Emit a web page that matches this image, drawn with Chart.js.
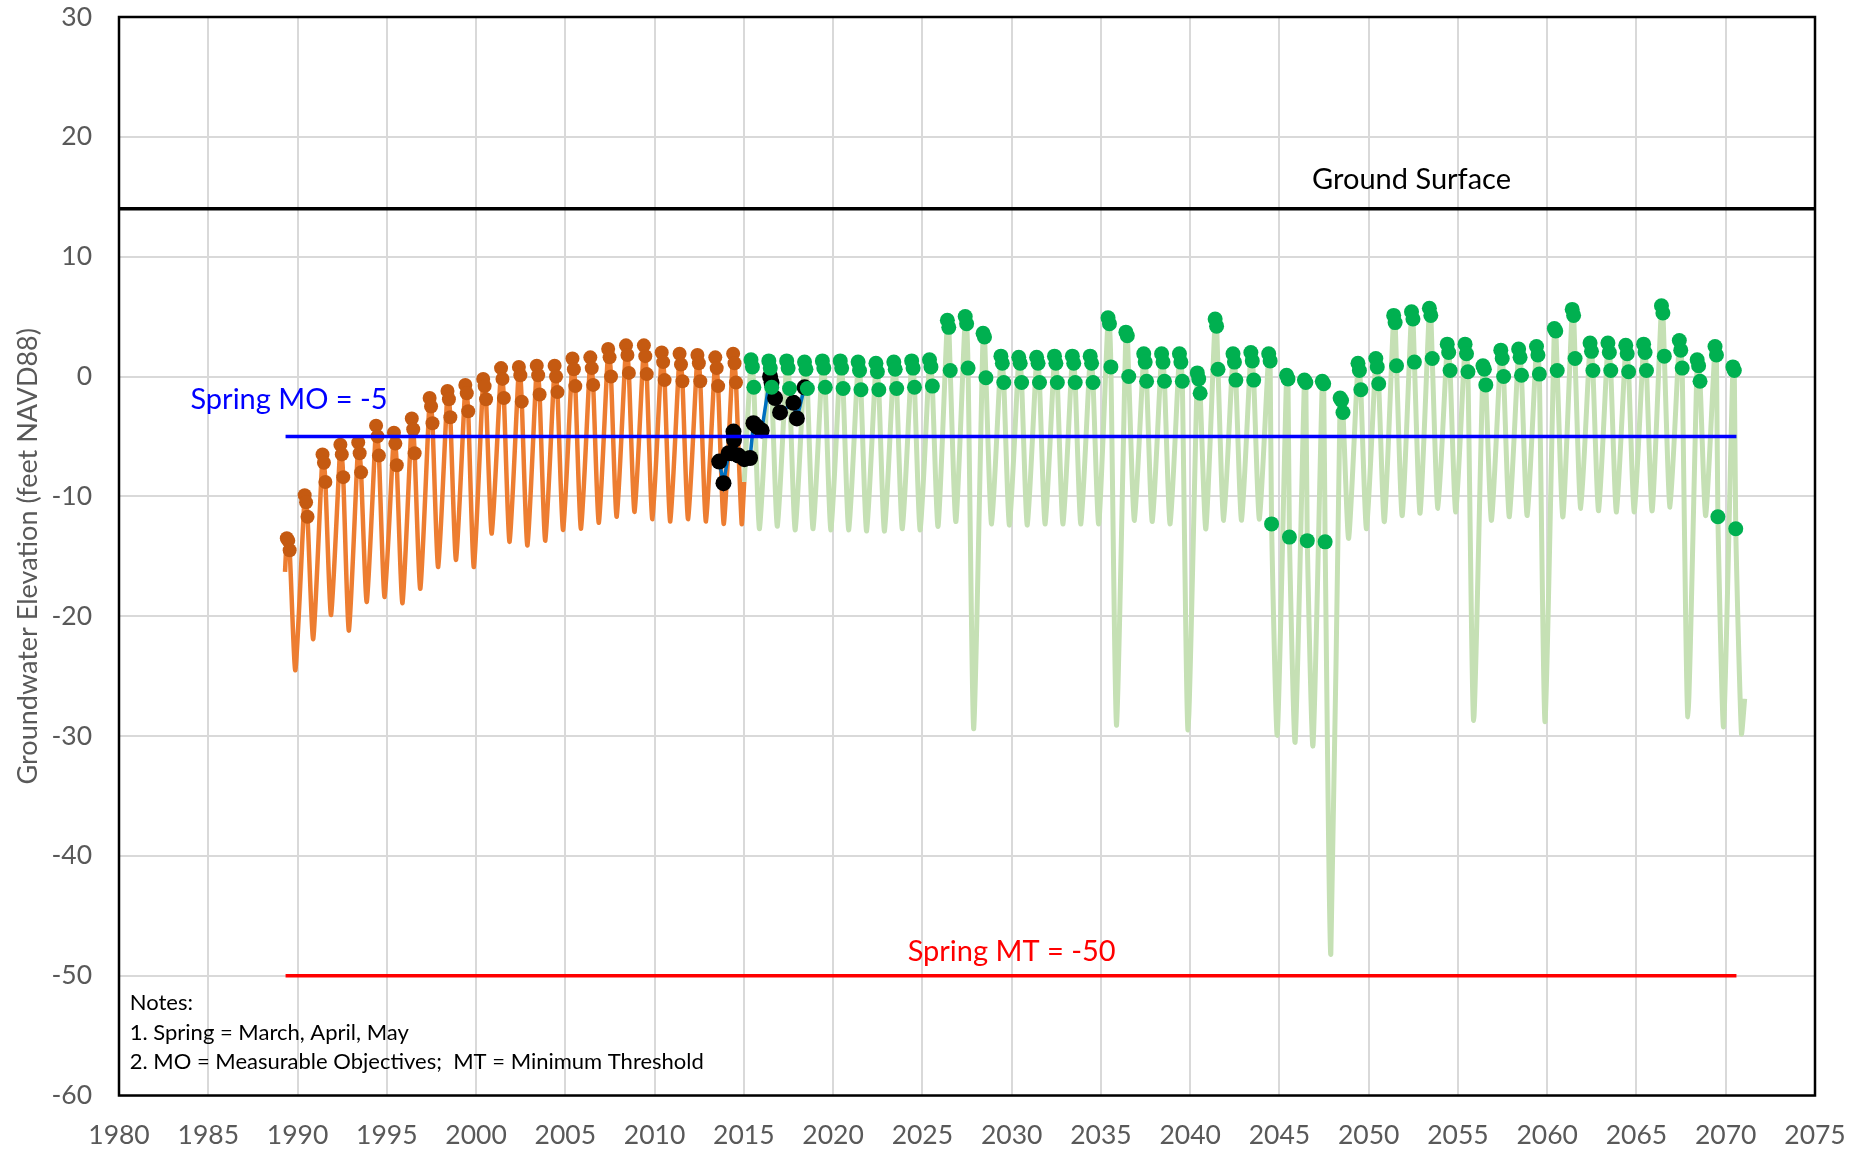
<!DOCTYPE html>
<html>
<head>
<meta charset="utf-8">
<title>Groundwater Elevation</title>
<script src="https://cdn.jsdelivr.net/npm/chart.js@4.4.1/dist/chart.umd.min.js"></script>
<style>
  html, body { margin: 0; padding: 0; background: #fff; }
  #wrap { width: 1865px; height: 1151px; }
</style>
</head>
<body>
<div id="wrap"><canvas id="chart" width="1865" height="1151"></canvas></div>
<script>
// simulated historical levels (feet NAVD88), one entry per year
const histYears = [1989, 1990, 1991, 1992, 1993, 1994, 1995, 1996, 1997, 1998, 1999, 2000, 2001,
                   2002, 2003, 2004, 2005, 2006, 2007, 2008, 2009, 2010, 2011, 2012, 2013, 2014];
const histMar = [-13.5, -9.9, -6.5, -5.7, -5.5, -4.1, -4.7, -3.5, -1.8, -1.2, -0.7, -0.2, 0.7,
                 0.8, 0.9, 0.9, 1.5, 1.6, 2.3, 2.6, 2.6, 2.0, 1.9, 1.8, 1.6, 1.9];
const histApr = [-13.7, -10.5, -7.2, -6.5, -6.4, -5.0, -5.6, -4.4, -2.5, -1.9, -1.4, -0.8, -0.2,
                 0.1, 0.1, 0.0, 0.6, 0.7, 1.6, 1.8, 1.7, 1.2, 1.0, 1.1, 0.7, 1.1];
const histMay = [-14.5, -11.7, -8.8, -8.4, -8.0, -6.6, -7.4, -6.4, -3.9, -3.4, -2.9, -1.9, -1.8,
                 -2.1, -1.5, -1.3, -0.8, -0.7, 0.0, 0.3, 0.2, -0.3, -0.4, -0.4, -0.8, -0.5];
const histLow = [-24.5, -21.9, -19.9, -21.2, -18.8, -18.4, -18.9, -17.7, -15.9, -15.3, -15.9, -13.1, -13.8,
                 -14.1, -13.7, -12.8, -12.7, -12.2, -11.7, -11.3, -11.9, -12.1, -11.9, -12.1, -12.3, -12.3];
const histStart = [1989.30, -16.3];
const histEnd = [2015.02, -8.8];

// projected levels, one entry per year
const futYears = [2015, 2016, 2017, 2018, 2019, 2020, 2021, 2022, 2023, 2024, 2025, 2026, 2027, 2028,
                  2029, 2030, 2031, 2032, 2033, 2034, 2035, 2036, 2037, 2038, 2039, 2040, 2041, 2042,
                  2043, 2044, 2045, 2046, 2047, 2048, 2049, 2050, 2051, 2052, 2053, 2054, 2055, 2056,
                  2057, 2058, 2059, 2060, 2061, 2062, 2063, 2064, 2065, 2066, 2067, 2068, 2069, 2070];
const futMar = [1.4, 1.3, 1.3, 1.2, 1.3, 1.3, 1.2, 1.1, 1.2, 1.3, 1.4, 4.7, 5.0, 3.6,
                1.7, 1.6, 1.6, 1.7, 1.7, 1.7, 4.9, 3.7, 1.9, 1.9, 1.9, 0.3, 4.8, 1.9,
                2.0, 1.9, 0.1, -0.3, -0.4, -1.8, 1.1, 1.5, 5.1, 5.4, 5.7, 2.7, 2.7, 0.9,
                2.2, 2.3, 2.5, 4.0, 5.6, 2.8, 2.8, 2.6, 2.7, 5.9, 3.0, 1.4, 2.5, 0.8];
const futApr = [0.8, 0.7, 0.7, 0.6, 0.7, 0.7, 0.5, 0.4, 0.6, 0.7, 0.8, 4.1, 4.4, 3.3,
                1.1, 1.1, 1.1, 1.1, 1.1, 1.1, 4.4, 3.4, 1.2, 1.2, 1.2, -0.2, 4.2, 1.2,
                1.3, 1.3, -0.2, -0.5, -0.6, -2.0, 0.5, 0.8, 4.5, 4.8, 5.1, 2.0, 1.9, 0.6,
                1.5, 1.6, 1.8, 3.8, 5.1, 2.1, 2.0, 1.9, 2.0, 5.3, 2.2, 0.9, 1.8, 0.5];
const futMay = [-0.9, -0.9, -1.0, -1.0, -0.9, -1.0, -1.1, -1.1, -1.0, -0.9, -0.8, 0.5, 0.7, -0.1,
                -0.5, -0.5, -0.5, -0.5, -0.5, -0.5, 0.8, 0.0, -0.4, -0.4, -0.4, -1.4, 0.6, -0.3,
                -0.3, -12.3, -13.4, -13.7, -13.8, -3.0, -1.1, -0.6, 0.9, 1.2, 1.5, 0.5, 0.4, -0.7,
                0.0, 0.1, 0.2, 0.5, 1.5, 0.5, 0.5, 0.4, 0.5, 1.7, 0.7, -0.4, -11.7, -12.7];
const futLow = [-12.7, -12.5, -12.8, -12.7, -12.8, -12.8, -12.9, -12.9, -12.7, -12.8, -12.5, -12.1, -29.4, -12.3,
                -12.4, -12.4, -12.3, -12.3, -12.3, -12.3, -29.1, -12.0, -12.1, -12.3, -29.5, -12.7, -12.0, -12.0,
                -11.9, -29.9, -30.5, -30.8, -48.2, -13.5, -12.7, -12.1, -11.6, -11.4, -11.0, -11.3, -28.7, -12.0,
                -11.7, -11.6, -28.8, -11.7, -11.0, -11.2, -11.3, -11.3, -11.2, -10.9, -28.4, -11.6, -29.2, -29.8];
const futStart = [2015.02, -8.8];
const futEnd = [2071.06, -26.9];

// observed levels
const obsDates = [2013.62, 2013.86, 2014.15, 2014.32, 2014.42, 2014.45, 2014.70, 2015.03, 2015.35,
                  2015.54, 2015.75, 2016.00, 2016.47, 2016.55, 2016.75, 2017.03, 2017.78, 2017.97, 2018.40];
const obsLevels = [-7.1, -8.9, -6.4, -6.4, -4.6, -5.3, -6.6, -6.9, -6.8,
                   -3.9, -4.2, -4.5, 0.0, -0.5, -1.8, -3.0, -2.2, -3.5, -0.9];

// date position of each month within a year on this axis
const monthPos = { mar: 0.40, apr: 0.48, may: 0.56, low: 0.88 };

// thresholds
const moLevel = -5;
const mtLevel = -50;
const groundLevel = 14;
const thresholdSpan = [1989.33, 2070.6];
const groundSpan = [1980, 2075];

const xTicks = [1980, 2075, 5];
const yTicks = [-60, 30, 10];

function seasonalLine(years, mar, apr, may, low, first, last) {
  const pts = [{ x: first[0], y: first[1] }];
  years.forEach((yr, i) => {
    pts.push({ x: yr + monthPos.mar, y: mar[i] });
    pts.push({ x: yr + monthPos.apr, y: apr[i] });
    pts.push({ x: yr + monthPos.may, y: may[i] });
    pts.push({ x: yr + monthPos.low, y: low[i] });
  });
  pts.push({ x: last[0], y: last[1] });
  return pts;
}

function springDots(years, mar, apr, may) {
  const pts = [];
  years.forEach((yr, i) => {
    pts.push({ x: yr + monthPos.mar, y: mar[i] });
    pts.push({ x: yr + monthPos.apr, y: apr[i] });
    pts.push({ x: yr + monthPos.may, y: may[i] });
  });
  return pts;
}

function flat(span, level) {
  return [{ x: span[0], y: level }, { x: span[1], y: level }];
}

const notes = [
  { text: 'Ground Surface', x: 2052.4, y: 16.4, color: '#000000', size: 29, align: 'center' },
  { text: 'Spring MO = -5', x: 1984.0, y: -1.9, color: '#0000FF', size: 29, align: 'left' },
  { text: 'Spring MT = -50', x: 2030.0, y: -48.0, color: '#FF0000', size: 29, align: 'center' },
  { text: 'Notes:', x: 1980.6, y: -52.25, color: '#000000', size: 22, align: 'left' },
  { text: '1. Spring = March, April, May', x: 1980.6, y: -54.75, color: '#000000', size: 22, align: 'left' },
  { text: '2. MO = Measurable Objectives;  MT = Minimum Threshold', x: 1980.6, y: -57.2, color: '#000000', size: 22, align: 'left' }
];

const textPlugin = {
  id: 'textNotes',
  afterDatasetsDraw(chart) {
    const { ctx, scales } = chart;
    ctx.save();
    notes.forEach(n => {
      ctx.font = n.size + 'px Lato';
      ctx.fillStyle = n.color;
      ctx.textAlign = n.align;
      ctx.textBaseline = 'middle';
      ctx.fillText(n.text, scales.x.getPixelForValue(n.x), scales.y.getPixelForValue(n.y));
    });
    ctx.restore();
  }
};

const framePlugin = {
  id: 'frame',
  afterDraw(chart) {
    const { ctx, chartArea: a } = chart;
    ctx.save();
    ctx.strokeStyle = '#000';
    ctx.lineWidth = 2.5;
    ctx.strokeRect(a.left, a.top, a.right - a.left, a.bottom - a.top);
    ctx.restore();
  }
};

Chart.defaults.font.family = 'Lato';

const ctx = document.getElementById('chart').getContext('2d');
new Chart(ctx, {
  type: 'scatter',
  data: {
    datasets: [
      { data: flat(thresholdSpan, moLevel), showLine: true, borderColor: '#0000FF', borderWidth: 3.5, pointRadius: 0, order: 1 },
      { data: flat(thresholdSpan, mtLevel), showLine: true, borderColor: '#FF0000', borderWidth: 3.5, pointRadius: 0, order: 2 },
      { data: springDots(futYears, futMar, futApr, futMay), backgroundColor: '#00B050', pointRadius: 7.5, pointBorderWidth: 0, order: 3 },
      { data: springDots(histYears, histMar, histApr, histMay), backgroundColor: '#C55A11', pointRadius: 7, pointBorderWidth: 0, order: 4 },
      { data: obsDates.map((d, i) => ({ x: d, y: obsLevels[i] })), backgroundColor: '#000000', pointRadius: 8, pointBorderWidth: 0, order: 5 },
      { data: obsDates.map((d, i) => ({ x: d, y: obsLevels[i] })), showLine: true, borderColor: '#0070C0', borderWidth: 3.5, pointRadius: 0, order: 6 },
      { data: flat(groundSpan, groundLevel), showLine: true, borderColor: '#000000', borderWidth: 3.5, pointRadius: 0, order: 7 },
      { data: seasonalLine(histYears, histMar, histApr, histMay, histLow, histStart, histEnd), showLine: true,
        borderColor: '#ED7D31', borderWidth: 4.5, borderJoinStyle: 'round', tension: 0.2, pointRadius: 0, order: 8 },
      { data: seasonalLine(futYears, futMar, futApr, futMay, futLow, futStart, futEnd), showLine: true,
        borderColor: '#C5E0B4', borderWidth: 5, borderJoinStyle: 'round', tension: 0.2, pointRadius: 0, order: 9 }
    ]
  },
  options: {
    responsive: false,
    animation: false,
    events: [],
    layout: { padding: { left: 0, right: 50, top: 17, bottom: 0 } },
    plugins: { legend: { display: false }, tooltip: { enabled: false } },
    scales: {
      x: {
        type: 'linear',
        min: xTicks[0],
        max: xTicks[1],
        afterFit: s => { s.height = 55.5; },
        ticks: { stepSize: xTicks[2], color: '#595959', font: { size: 26.5 }, padding: 0, maxRotation: 0,
                  callback: v => String(v) },
        grid: { color: '#D9D9D9', lineWidth: 2, drawTicks: true, tickLength: 24, tickColor: 'rgba(0,0,0,0)' },
        border: { display: false }
      },
      y: {
        type: 'linear',
        min: yTicks[0],
        max: yTicks[1],
        afterFit: s => { s.width = 119; },
        ticks: { stepSize: yTicks[2], color: '#595959', font: { size: 26.5 }, padding: 0,
                  callback: v => String(v) },
        grid: { color: '#D9D9D9', lineWidth: 2, drawTicks: true, tickLength: 27, tickColor: 'rgba(0,0,0,0)' },
        border: { display: false },
        title: { display: true, text: 'Groundwater Elevation (feet NAVD88)', color: '#595959',
                 font: { size: 27 }, padding: { top: 12 } }
      }
    }
  },
  plugins: [textPlugin, framePlugin]
});
</script>
</body>
</html>
